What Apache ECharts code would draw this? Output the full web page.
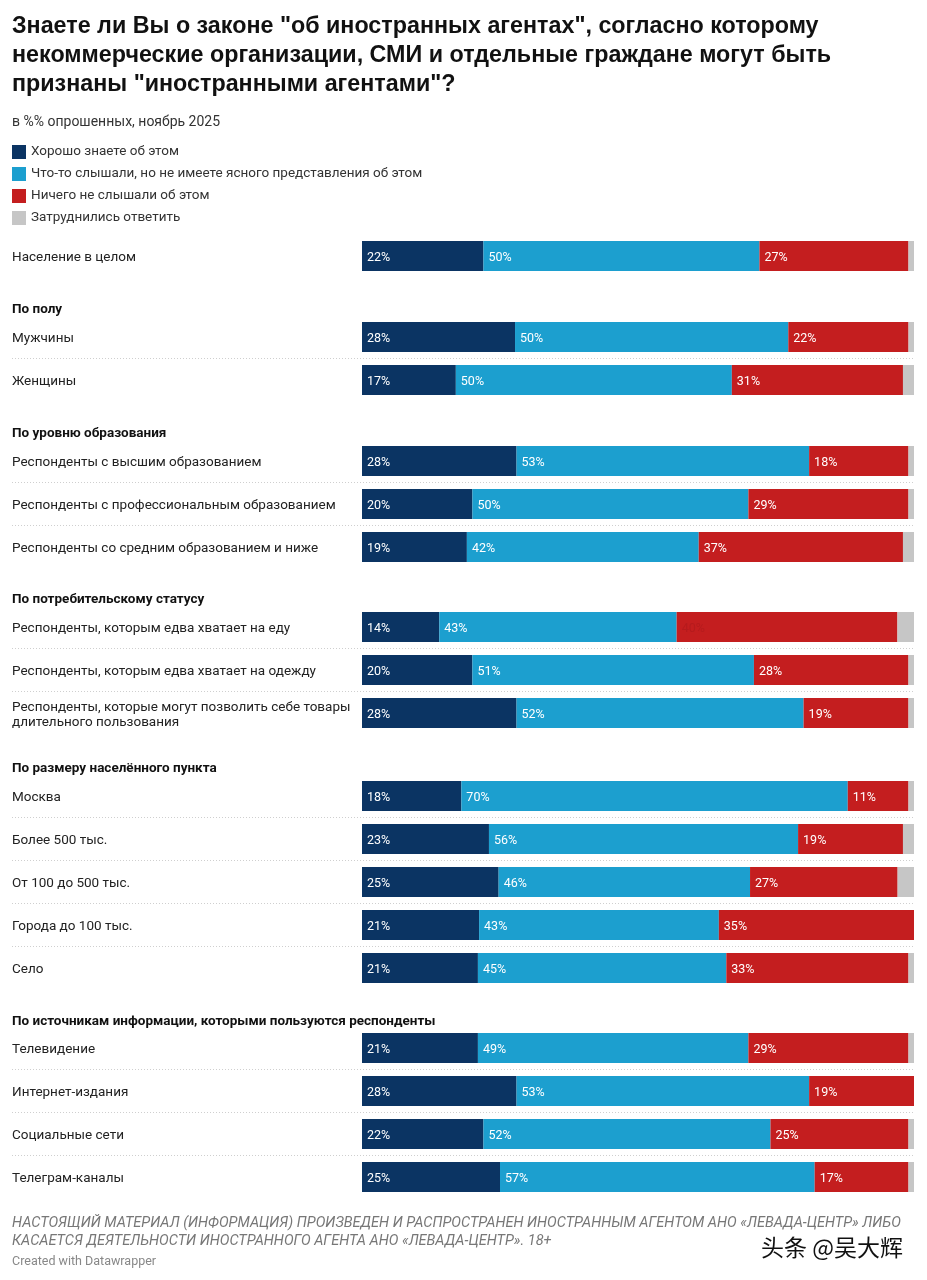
<!DOCTYPE html>
<html><head><meta charset="utf-8">
<script src="https://cdn.jsdelivr.net/npm/echarts@6/dist/echarts.min.js"></script>
<style>html,body{margin:0;padding:0;background:#fff}#c{width:927px;height:1280px}</style>
</head><body><div id="c"></div>
<script>
const seriesNames = ['Хорошо знаете об этом','Что-то слышали, но не имеете ясного представления об этом','Ничего не слышали об этом','Затруднились ответить'];
const groupTitles = ['', 'По полу', 'По уровню образования', 'По потребительскому статусу', 'По размеру населённого пункта', 'По источникам информации, которыми пользуются респонденты'];
const groupRows = [
  ['Население в целом'],
  ['Мужчины','Женщины'],
  ['Респонденты с высшим образованием','Респонденты с профессиональным образованием','Респонденты со средним образованием и ниже'],
  ['Респонденты, которым едва хватает на еду','Респонденты, которым едва хватает на одежду','Респонденты, которые могут позволить себе товары\nдлительного пользования'],
  ['Москва','Более 500 тыс.','От 100 до 500 тыс.','Города до 100 тыс.','Село'],
  ['Телевидение','Интернет-издания','Социальные сети','Телеграм-каналы']
];
const wellKnow = [22, 28,17, 28,20,19, 14,20,28, 18,23,25,21,21, 21,28,22,25];
const heardSome = [50, 50,50, 53,50,42, 43,51,52, 70,56,46,43,45, 49,53,52,57];
const neverHeard = [27, 22,31, 18,29,37, 40,28,19, 11,19,27,35,33, 29,19,25,17];
const hardSay   = [1, 1,2, 1,1,2, 3,1,1, 1,2,3,0,1, 1,0,1,1];
const hiddenLabelRow = 6; // red label barely visible in the source

const colors = ['#0b3463','#1c9fcf','#c41e1f','#c6c6c6'];
const raw = [wellKnow, heardSome, neverHeard, hardSay];

// layout
const rowH = 43;
const groupTops = [234.5, 315.5, 439.5, 605.5, 774.5, 1026.5];
const headerY = [0, 303, 427, 593, 762, 1015];
const labelX = 12, barLeft = 362, barRight = 914;
const xMin = -100 * (barLeft - labelX) / (barRight - barLeft);

const chart = echarts.init(document.getElementById('c'), null, {renderer:'canvas'});
const grids = [], xAxes = [], yAxes = [], series = [];
let offset = 0;
groupRows.forEach((rows, g) => {
  grids.push({left: labelX, right: 927 - barRight, top: groupTops[g], height: rows.length * rowH});
  xAxes.push({type:'value', gridIndex:g, min:xMin, max:100, show:false});
  yAxes.push({type:'category', gridIndex:g, inverse:true, data:rows,
    axisLine:{show:false}, axisTick:{show:false},
    axisLabel:{inside:true, margin:0, align:'left', fontFamily:'Roboto', fontSize:13.5, color:'#222', lineHeight:15,
      formatter: v => v.split('\n').map(l => '{a|' + l + '}').join('\n'),
      rich:{a:{fontFamily:'Roboto', fontSize:13.5, color:'#222', lineHeight:15, padding:[4,0,0,0]}}},
    splitLine:{show:true, interval:0, showMinLine:false, showMaxLine:false, lineStyle:{type:[1,2], color:'#cfcfcf', width:1}}
  });
  const idx = rows.map((_, i) => offset + i);
  raw.forEach((arr, s) => {
    series.push({
      type:'bar', name: seriesNames[s], xAxisIndex:g, yAxisIndex:g, stack:'g'+g,
      barWidth:30, itemStyle:{color:colors[s]},
      label:{show: s < 3, position:'insideLeft', distance:5, offset:[0,1.5], color:'#fff', fontFamily:'Roboto', fontSize:12.5,
        formatter: p => p.data.raw + '%'},
      data: idx.map(k => {
        const tot = raw.reduce((a, r) => a + r[k], 0);
        const item = {value: arr[k] / tot * 100, raw: arr[k]};
        if (s === 2 && k === hiddenLabelRow) item.label = {color:'#b51b1d'};
        return item;
      })
    });
  });
  offset += rows.length;
});

const titles = [
  {text:'Знаете ли Вы о законе "об иностранных агентах", согласно которому\nнекоммерческие организации, СМИ и отдельные граждане могут быть\nпризнаны "иностранными агентами"?',
   left:12, top:12, padding:0, textStyle:{fontFamily:'Liberation Sans', fontWeight:'bold', fontSize:23.3, lineHeight:29, color:'#111'}},
  {text:'в %% опрошенных, ноябрь 2025', left:12, top:115, padding:0, textStyle:{fontFamily:'Roboto', fontWeight:'normal', fontSize:14, color:'#333'}}
];
groupTitles.forEach((t, g) => { if (t) titles.push({text:t, left:12, top:headerY[g], padding:0, textStyle:{fontFamily:'Roboto', fontWeight:'bold', fontSize:13.5, color:'#111'}}); });
titles.push({text:'НАСТОЯЩИЙ МАТЕРИАЛ (ИНФОРМАЦИЯ) ПРОИЗВЕДЕН И РАСПРОСТРАНЕН ИНОСТРАННЫМ АГЕНТОМ АНО «ЛЕВАДА-ЦЕНТР» ЛИБО\nКАСАЕТСЯ ДЕЯТЕЛЬНОСТИ ИНОСТРАННОГО АГЕНТА АНО «ЛЕВАДА-ЦЕНТР». 18+',
  left:12, top:1214, padding:0, textStyle:{fontFamily:'Roboto', fontStyle:'italic', fontWeight:'normal', fontSize:14.5, lineHeight:18, color:'#777'}});
titles.push({text:'Created with Datawrapper', left:12, top:1255, padding:0, textStyle:{fontFamily:'Roboto', fontWeight:'normal', fontSize:12.5, color:'#888'}});
titles.push({text:'头条 @吴大辉', right:22, top:1236, padding:0, textStyle:{fontFamily:'Noto Sans CJK SC', fontWeight:'normal', fontSize:23, color:'#111', textBorderColor:'#fff', textBorderWidth:2}});

chart.setOption({
  animation:false,
  title: titles,
  legend:{orient:'vertical', left:12, top:145, padding:0, itemWidth:14, itemHeight:14, itemGap:8, icon:'rect',
    data: seriesNames, textStyle:{fontFamily:'Roboto', fontSize:13.5, color:'#333'}, selectedMode:false},
  grid: grids, xAxis: xAxes, yAxis: yAxes, series: series
});
</script></body></html>
